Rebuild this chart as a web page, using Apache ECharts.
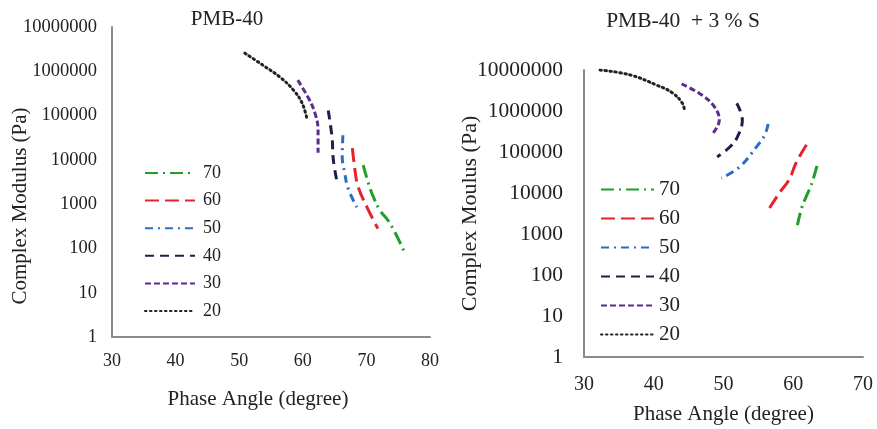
<!DOCTYPE html>
<html>
<head>
<meta charset="utf-8">
<script src="https://cdn.jsdelivr.net/npm/echarts@6/dist/echarts.min.js"></script>
<style>html,body{margin:0;padding:0;background:#fff}#c{width:877px;height:429px}</style>
</head>
<body>
<div id="c"></div>
<script>
// ---- Data: PMB-40 (left) ----
var legendNames = ['70', '60', '50', '40', '30', '20'];
var xTicksLeft = [30, 40, 50, 60, 70, 80];
var xTicksRight = [30, 40, 50, 60, 70];

var A20x = [50.9, 53.7, 56.4, 58.5, 59.9, 60.7];
var A20y = [2570000, 1380000, 740000, 380000, 190000, 79000];
var A30x = [59.2, 60.8, 61.9, 62.4, 62.4];
var A30y = [630000, 263000, 115000, 47000, 14500];
var A40x = [64.0, 64.6, 64.8, 65.4];
var A40y = [130000, 32000, 10000, 3100];
var A50x = [66.3, 66.2, 66.6, 67.1, 68.5];
var A50y = [36000, 11500, 5000, 2300, 850];
var A60x = [67.8, 68.2, 68.7, 70.1, 71.8];
var A60y = [18500, 5900, 2450, 850, 280];
var A70x = [69.5, 70.3, 71.1, 72.1, 73.7, 75.9];
var A70y = [7600, 3000, 1450, 740, 370, 88];

// ---- Data: PMB-40 + 3 % S (right) ----
var B20x = [32.3, 36.6, 40.4, 42.7, 44.1, 44.4];
var B20y = [10000000, 7600000, 4300000, 2750000, 1550000, 1050000];
var B30x = [44.0, 46.9, 48.7, 49.4, 48.3];
var B30y = [4600000, 2450000, 1260000, 600000, 260000];
var B40x = [51.9, 52.7, 52.0, 50.9, 49.1];
var B40y = [1550000, 600000, 235000, 132000, 76000];
var B50x = [56.4, 55.9, 54.7, 52.3, 49.7];
var B50y = [480000, 257000, 132000, 43000, 23000];
var B60x = [61.9, 60.4, 59.4, 58.0, 56.6];
var B60y = [150000, 54000, 21000, 10000, 4300];
var B70x = [63.4, 62.6, 61.9, 61.2, 60.6];
var B70y = [46000, 16000, 8500, 4300, 1650];

var styles = {
  '70': {color: '#1f9e2a', type: [13, 5, 2, 5], width: 3},
  '60': {color: '#e5232b', type: [14, 6], width: 3},
  '50': {color: '#2b6cc4', type: [8, 5, 2, 5], width: 3},
  '40': {color: '#1b1f4b', type: [9, 6], width: 3},
  '30': {color: '#5a2c8e', type: [6, 3], width: 3},
  '20': {color: '#222222', type: [1.5, 3.5], width: 3, cap: 'round'}
};

function pairs(xs, ys) { return xs.map(function (x, i) { return [x, ys[i]]; }); }

function mk(name, xs, ys, idx) {
  var s = styles[name];
  return {
    name: name, type: 'line', xAxisIndex: idx, yAxisIndex: idx,
    data: pairs(xs, ys), smooth: 0.4, symbol: 'none', showSymbol: false,
    lineStyle: {color: s.color, type: s.type, width: s.width, cap: s.cap || 'butt'},
    itemStyle: {color: s.color}, animation: false, z: 3
  };
}

var FONT = 'Liberation Serif';
var axisLineStyle = {lineStyle: {color: '#8a8a8a', width: 2}};
function fmtLog(v) { return String(Math.round(v)); }

var option = {
  animation: false,
  backgroundColor: '#fff',
  title: [
    {text: 'PMB-40', left: 222, top: 4, textAlign: 'center',
     textStyle: {fontFamily: FONT, fontWeight: 'normal', fontSize: 21, color: '#222'}},
    {text: 'PMB-40  + 3 % S', left: 678, top: 5, textAlign: 'center',
     textStyle: {fontFamily: FONT, fontWeight: 'normal', fontSize: 21.5, color: '#222'}}
  ],
  grid: [
    {left: 112, top: 27, width: 318, height: 310, containLabel: false, outerBoundsMode: 'none'},
    {left: 584, top: 70, width: 279, height: 287, containLabel: false, outerBoundsMode: 'none'}
  ],
  xAxis: [
    {gridIndex: 0, type: 'value', min: xTicksLeft[0], max: xTicksLeft[xTicksLeft.length - 1], interval: 10,
     axisLine: axisLineStyle, axisTick: {show: false}, splitLine: {show: false},
     axisLabel: {fontFamily: FONT, fontSize: 18, color: '#222', margin: 15},
     name: 'Phase Angle (degree)', nameLocation: 'middle', nameGap: 52, nameMoveOverlap: false,
     nameTextStyle: {fontFamily: FONT, fontSize: 21, color: '#222', padding: [0, 26, 0, 0]}},
    {gridIndex: 1, type: 'value', min: xTicksRight[0], max: xTicksRight[xTicksRight.length - 1], interval: 10,
     axisLine: axisLineStyle, axisTick: {show: false}, splitLine: {show: false},
     axisLabel: {fontFamily: FONT, fontSize: 20, color: '#222', margin: 18},
     name: 'Phase Angle (degree)', nameLocation: 'middle', nameGap: 47, nameMoveOverlap: false,
     nameTextStyle: {fontFamily: FONT, fontSize: 21, color: '#222'}}
  ],
  yAxis: [
    {gridIndex: 0, type: 'log', logBase: 10, min: 1, max: 10000000,
     axisLine: axisLineStyle, axisTick: {show: false}, splitLine: {show: false},
     axisLabel: {fontFamily: FONT, fontSize: 18.5, color: '#222', margin: 15, formatter: fmtLog},
     name: 'Complex Modulus (Pa)', nameLocation: 'middle', nameGap: 81, nameMoveOverlap: false,
     nameTextStyle: {fontFamily: FONT, fontSize: 21, color: '#222', padding: [0, 48, 0, 0]}},
    {gridIndex: 1, type: 'log', logBase: 10, min: 1, max: 10000000,
     axisLine: axisLineStyle, axisTick: {show: false}, splitLine: {show: false},
     axisLabel: {fontFamily: FONT, fontSize: 21.5, color: '#222', margin: 21, formatter: fmtLog},
     name: 'Complex Moulus (Pa)', nameLocation: 'middle', nameGap: 103, nameMoveOverlap: false,
     nameTextStyle: {fontFamily: FONT, fontSize: 22, color: '#222'}}
  ],
  legend: [
    {orient: 'vertical', left: 144, top: 164, padding: 0, data: legendNames,
     itemWidth: 50, itemHeight: 14, itemGap: 9.6, itemStyle: {opacity: 0},
     textStyle: {fontFamily: FONT, fontSize: 18, color: '#222', padding: [0, 0, 0, 3]}},
    {orient: 'vertical', left: 600, top: 179, padding: 0, data: legendNames,
     itemWidth: 53, itemHeight: 14, itemGap: 8, itemStyle: {opacity: 0},
     textStyle: {fontFamily: FONT, fontSize: 21, color: '#222'}}
  ],
  series: [
    mk('20', A20x, A20y, 0), mk('30', A30x, A30y, 0), mk('40', A40x, A40y, 0),
    mk('50', A50x, A50y, 0), mk('60', A60x, A60y, 0), mk('70', A70x, A70y, 0),
    mk('20', B20x, B20y, 1), mk('30', B30x, B30y, 1), mk('40', B40x, B40y, 1),
    mk('50', B50x, B50y, 1), mk('60', B60x, B60y, 1), mk('70', B70x, B70y, 1)
  ]
};
var chart = echarts.init(document.getElementById('c'), null, {renderer: 'canvas'});
chart.setOption(option);
</script>
</body>
</html>
